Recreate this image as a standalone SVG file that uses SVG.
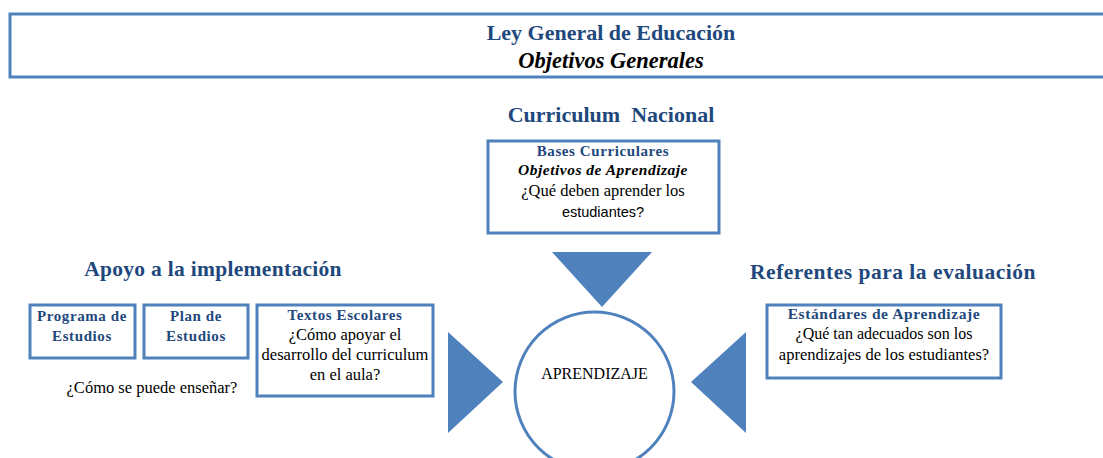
<svg xmlns="http://www.w3.org/2000/svg" width="1103" height="458" viewBox="0 0 1103 458">
<style>
.box{fill:#fff;stroke:#4F81BD;stroke-width:3}
.tri{fill:#4F81BD}
.h{font-family:"Liberation Serif","Times New Roman","DejaVu Serif",serif;font-weight:bold;fill:#1F497D;text-anchor:middle}
.hb{font-family:"Liberation Serif","Times New Roman","DejaVu Serif",serif;font-weight:bold;fill:#1F497D;text-anchor:middle}
.t{font-family:"Liberation Serif","Times New Roman","DejaVu Serif",serif;fill:#000;text-anchor:middle}
.bi{font-family:"Liberation Serif","Times New Roman","DejaVu Serif",serif;font-weight:bold;font-style:italic;fill:#000;text-anchor:middle}
.s{font-family:"Liberation Sans",Arial,sans-serif;fill:#000;text-anchor:middle}
</style>
<rect width="1103" height="458" fill="#fff"/>
<g id="header">
<rect class="box" x="10" y="14" width="1100" height="63"/>
<text class="h" x="611" y="40" font-size="22">Ley General de Educación</text>
<text class="bi" x="611" y="68" font-size="22.5">Objetivos Generales</text>
</g>
<g id="curriculum-title">
<text class="h" x="611" y="122" font-size="22" xml:space="preserve">Curriculum  Nacional</text>
</g>
<g id="bases">
<rect class="box" x="488" y="141" width="231" height="92"/>
<text class="hb" x="603" y="156" font-size="15" letter-spacing="0.6">Bases Curriculares</text>
<text class="bi" x="603" y="175" font-size="15.5" letter-spacing="0.5">Objetivos de Aprendizaje</text>
<text class="t" x="603" y="196" font-size="16.5">¿Qué deben aprender los</text>
<text class="s" x="603" y="217" font-size="14.5">estudiantes?</text>
</g>
<g id="apoyo-title">
<text class="h" x="213" y="276" font-size="21.5" letter-spacing="0.3">Apoyo a la implementación</text>
</g>
<g id="referentes-title">
<text class="h" x="893" y="279" font-size="21.5" letter-spacing="0.5">Referentes para la evaluación</text>
</g>
<g id="programa">
<rect class="box" x="30" y="305" width="105" height="53"/>
<text class="hb" x="82" y="321" font-size="15" letter-spacing="0.6">Programa de</text>
<text class="hb" x="82" y="341" font-size="15" letter-spacing="0.6">Estudios</text>
</g>
<g id="plan">
<rect class="box" x="144" y="305" width="104" height="53"/>
<text class="hb" x="196" y="321" font-size="15" letter-spacing="0.6">Plan de</text>
<text class="hb" x="196" y="341" font-size="15" letter-spacing="0.6">Estudios</text>
</g>
<g id="textos">
<rect class="box" x="257" y="305" width="176" height="91"/>
<text class="hb" x="345" y="320" font-size="15" letter-spacing="0.6">Textos Escolares</text>
<text class="t" x="345" y="340" font-size="16.5">¿Cómo apoyar el</text>
<text class="t" x="345" y="360" font-size="16.5">desarrollo del curriculum</text>
<text class="t" x="345" y="380" font-size="16.5">en el aula?</text>
</g>
<g id="ensenar">
<text class="t" x="152" y="393" font-size="16.5">¿Cómo se puede enseñar?</text>
</g>
<g id="estandares">
<rect class="box" x="767" y="305" width="234" height="73"/>
<text class="hb" x="884" y="319" font-size="15.5" letter-spacing="0.6">Estándares de Aprendizaje</text>
<text class="t" x="884" y="339" font-size="16">¿Qué tan adecuados son los</text>
<text class="t" x="884" y="360" font-size="16.5">aprendizajes de los estudiantes?</text>
</g>
<g id="aprendizaje">
<circle cx="594.5" cy="391.5" r="79.5" fill="#fff" stroke="#4F81BD" stroke-width="3"/>
<text class="t" x="594.5" y="379" font-size="16">APRENDIZAJE</text>
</g>
<g id="connectors">
<polygon class="tri" points="552,252 652,252 602,307"/>
<polygon class="tri" points="448,332 448,433 503,382"/>
<polygon class="tri" points="746,332 746,433 691,382"/>
</g>
</svg>
